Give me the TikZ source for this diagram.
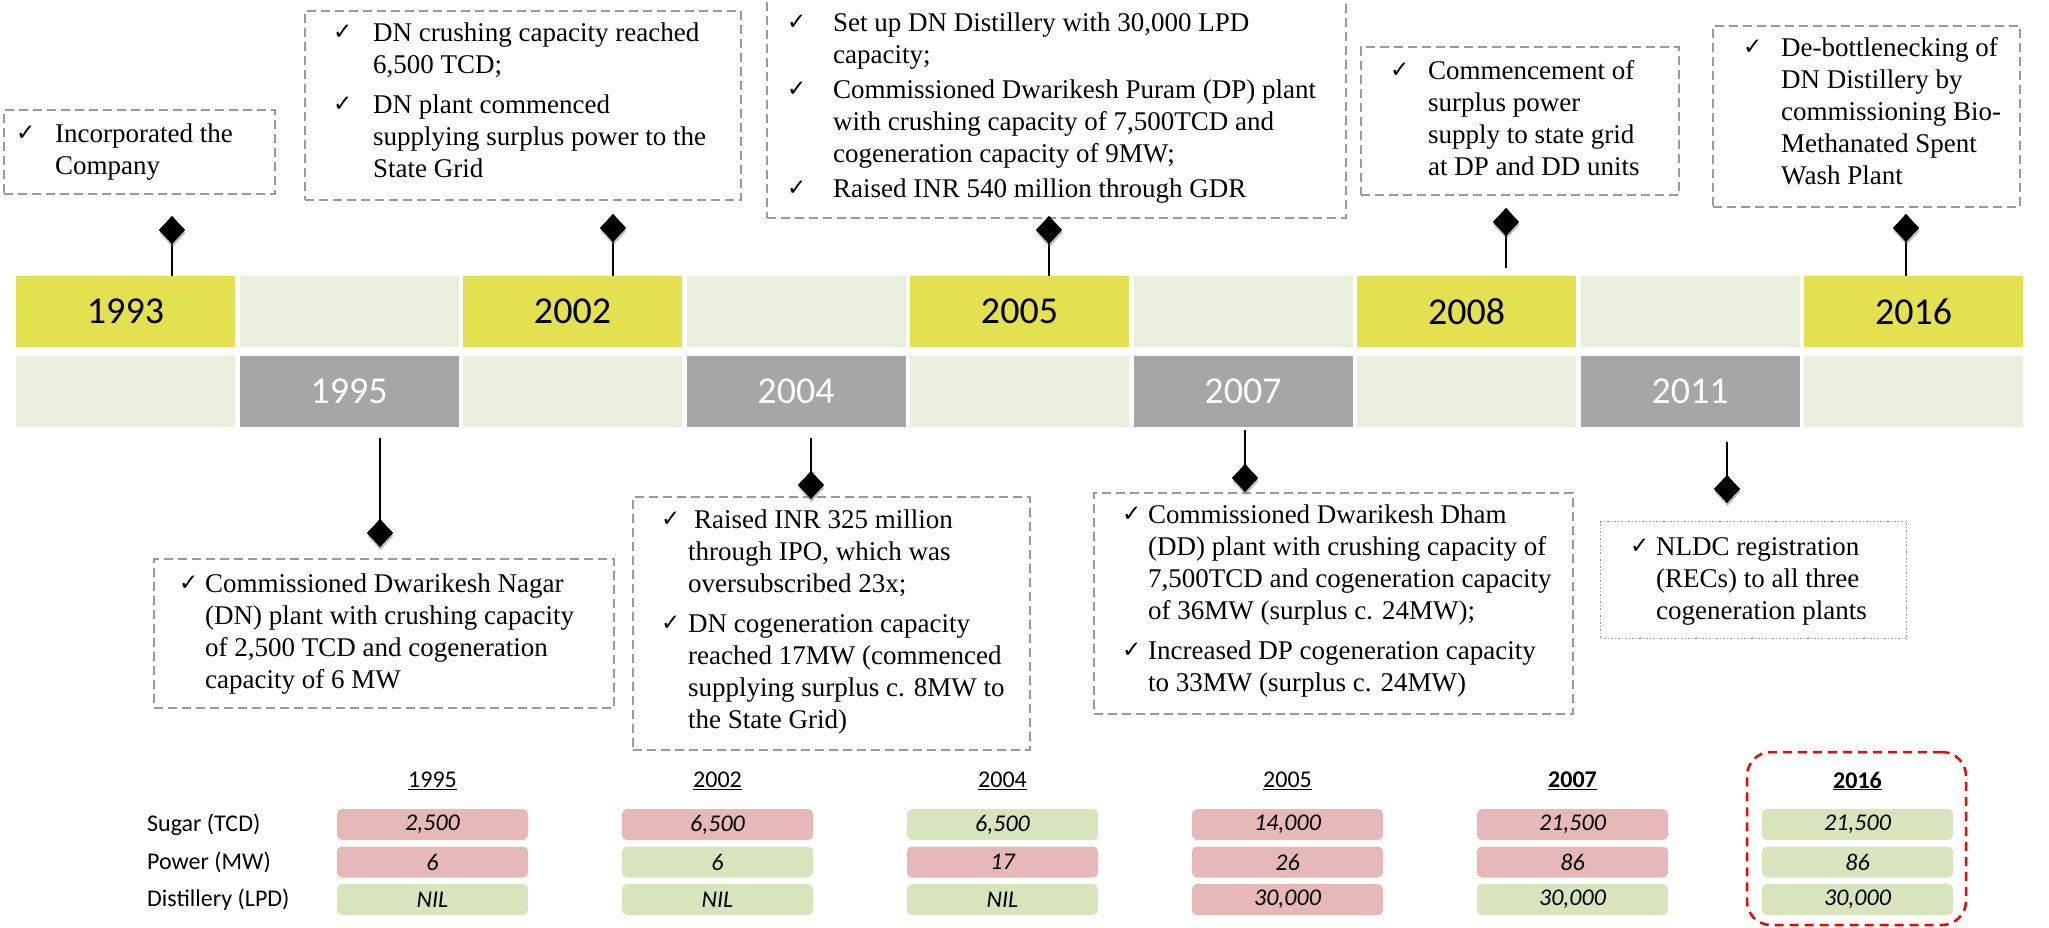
\documentclass[tikz,border=0pt]{standalone}
\usepackage{fontspec}
\setmainfont{Liberation Serif}
\newfontfamily\calfont{Carlito}
\newfontfamily\dejavu{DejaVu Sans}
\usetikzlibrary{shapes.geometric,shadows}
\definecolor{ylw}{RGB}{228,225,80}
\definecolor{lgt}{RGB}{234,239,221}
\definecolor{gry}{RGB}{166,166,166}
\definecolor{pnk}{RGB}{230,184,183}
\definecolor{grn}{RGB}{216,228,188}
\definecolor{dsh}{RGB}{155,155,155}
\newcommand{\ckm}[1]{\makebox[#1pt][l]{\raisebox{2pt}{\dejavu\fontsize{23}{23}\selectfont ✓}}}
\begin{document}
\begin{tikzpicture}[x=1pt,y=-1pt,
  cell/.style={minimum width=219pt, minimum height=71pt, inner sep=0pt, font=\calfont\fontsize{38}{40}\selectfont},
  evbox/.style={draw=dsh, line width=1.8pt, dash pattern=on 9pt off 5pt, anchor=north west, inner sep=0pt},
  dotbox/.style={draw=dsh, line width=1.3pt, dash pattern=on 1.5pt off 2pt, anchor=north west, inner sep=0pt},
  txt/.style={inner sep=0pt, anchor=base west, font=\fontsize{27}{32}\selectfont},
  dmd/.style={shape=diamond, fill=black, inner sep=0pt, minimum width=26pt, minimum height=28pt,
    drop shadow={shadow xshift=0.5pt, shadow yshift=-3pt, opacity=0.3}},
  stem/.style={line width=2.5pt, black},
  lbl/.style={anchor=west, inner sep=0pt, font=\calfont\fontsize{24}{26}\selectfont},
  hdr/.style={inner sep=0pt, font=\calfont\fontsize{24}{26}\selectfont},
  val/.style={rounded corners=5pt, minimum width=191pt, minimum height=31pt, inner sep=0pt, font=\calfont\itshape\fontsize{24}{26}\selectfont}
]
\useasboundingbox (0,0) rectangle (2049,928);

% timeline rows
\foreach \i/\ty/\by in {0/1993/,1//1995,2/2002/,3//2004,4/2005/,5//2007,6/2008/,7//2011,8/2016/}{
  \ifodd\i
    \node[cell, fill=lgt] (top\i) at ({125.5+223.5*\i},311.5) {};
    \node[cell, fill=gry, text=white] (bot\i) at ({125.5+223.5*\i},391.5) {\by};
  \else
    \node[cell, fill=ylw] (top\i) at ({125.5+223.5*\i},311.5) {\ty};
    \node[cell, fill=lgt] (bot\i) at ({125.5+223.5*\i},391.5) {};
  \fi
}

% top event boxes
\node[evbox, minimum width=271pt, minimum height=84pt] (b1993) at (3,109) {};
\node[txt] (t1993) at (16,143) {\begin{tabular}[t]{@{}l@{}l@{}}\ckm{39} & Incorporated the\\ & Company\end{tabular}};

\node[evbox, minimum width=436pt, minimum height=189pt] (b2002) at (304,10) {};
\node[txt] (t2002) at (333,42) {\begin{tabular}[t]{@{}l@{}l@{}}\ckm{40} & DN crushing capacity reached\\ & 6,500 TCD;\\[8pt]
\ckm{40} & DN plant commenced\\ & supplying surplus power to the\\ & State Grid\end{tabular}};

\node[evbox, minimum width=579pt, minimum height=222pt] (b2005) at (766,-5) {};
\node[txt] (t2005) at (787,32) {\begin{tabular}[t]{@{}l@{}l@{}}\ckm{46} & Set up DN Distillery with 30,000 LPD\\ & capacity;\\[3pt]
\ckm{46} & Commissioned Dwarikesh Puram (DP) plant\\ & with crushing capacity of 7,500TCD and\\ & cogeneration capacity of 9MW;\\[3pt]
\ckm{46} & Raised INR 540 million through GDR\end{tabular}};

\node[evbox, minimum width=318pt, minimum height=148pt] (b2008) at (1360,46) {};
\node[txt] (t2008) at (1390,80) {\begin{tabular}[t]{@{}l@{}l@{}}\ckm{38} & Commencement of\\ & surplus power\\ & supply to state grid\\ & at DP and DD units\end{tabular}};

\node[evbox, minimum width=307pt, minimum height=181pt] (b2016) at (1712,25) {};
\node[txt] (t2016) at (1743,57) {\begin{tabular}[t]{@{}l@{}l@{}}\ckm{38} & De-bottlenecking of\\ & DN Distillery by\\ & commissioning Bio-\\ & Methanated Spent\\ & Wash Plant\end{tabular}};

% bottom event boxes
\node[evbox, minimum width=460pt, minimum height=149pt] (b1995) at (153,558) {};
\node[txt] (t1995) at (179,592) {\begin{tabular}[t]{@{}l@{}l@{}}\ckm{26} & Commissioned Dwarikesh Nagar\\ & (DN) plant with crushing capacity\\ & of 2,500 TCD and cogeneration\\ & capacity of 6 MW\end{tabular}};

\node[evbox, minimum width=397pt, minimum height=253pt] (b2004) at (632,496) {};
\node[txt] (t2004) at (661,528) {\begin{tabular}[t]{@{}l@{}l@{}}\ckm{27} & \hspace{6pt}Raised INR 325 million\\ & through IPO, which was\\ & oversubscribed 23x;\\[8pt]
\ckm{27} & DN cogeneration capacity\\ & reached 17MW (commenced\\ & supplying surplus c. 8MW to\\ & the State Grid)\end{tabular}};

\node[evbox, minimum width=479pt, minimum height=221pt] (b2007) at (1093,492) {};
\node[txt] (t2007) at (1122,523) {\begin{tabular}[t]{@{}l@{}l@{}}\ckm{26} & Commissioned Dwarikesh Dham\\ & (DD) plant with crushing capacity of\\ & 7,500TCD and cogeneration capacity\\ & of 36MW (surplus c. 24MW);\\[8pt]
\ckm{26} & Increased DP cogeneration capacity\\ & to 33MW (surplus c. 24MW)\end{tabular}};

\node[dotbox, minimum width=306pt, minimum height=117pt] (b2011) at (1600,521) {};
\node[txt] (t2011) at (1630,555) {\begin{tabular}[t]{@{}l@{}l@{}}\ckm{26} & NLDC registration\\ & (RECs) to all three\\ & cogeneration plants\end{tabular}};

% diamonds and stems (top)
\node[dmd] (d1993) at (172,230) {};
\node[dmd] (d2002) at (613,228) {};
\node[dmd] (d2005) at (1049,230) {};
\node[dmd] (d2008) at (1506,222) {};
\node[dmd] (d2016) at (1906,228) {};
\coordinate (s1993) at (172,276);
\coordinate (s2002) at (613,276);
\coordinate (s2005) at (1049,276);
\coordinate (s2008) at (1506,268);
\coordinate (s2016) at (1906,276);
\foreach \n in {1993,2002,2005,2008,2016}{\draw[stem] (d\n.center) -- (s\n);}
\foreach \n in {1993,2002,2005,2008,2016}{\node[dmd] at (d\n) {};}

% diamonds and stems (bottom)
\node[dmd] (d1995) at (380,533) {};
\node[dmd] (d2004) at (811,485) {};
\node[dmd] (d2007) at (1245,478) {};
\node[dmd] (d2011) at (1727,489) {};
\coordinate (s1995) at (380,438);
\coordinate (s2004) at (811,438);
\coordinate (s2007) at (1245,430);
\coordinate (s2011) at (1727,442);
\foreach \n in {1995,2004,2007,2011}{\draw[stem] (s\n) -- (d\n.center);}
\foreach \n in {1995,2004,2007,2011}{\node[dmd] at (d\n) {};}

% table
\node[lbl] (lsug) at (147,825) {Sugar (TCD)};
\node[lbl] (lpow) at (147,862.5) {Power (MW)};
\node[lbl] (ldis) at (147,900) {Distillery (LPD)};

\node[hdr] (h1995) at (432.5,781) {\underline{1995}};
\node[val, fill=pnk] (s95) at (432.5,824.5) {2,500};
\node[val, fill=pnk] (p95) at (432.5,862) {6};
\node[val, fill=grn] (x95) at (432.5,899.5) {NIL};

\node[hdr] (h2002) at (717.5,781) {\underline{2002}};
\node[val, fill=pnk] (s02) at (717.5,824.5) {6,500};
\node[val, fill=grn] (p02) at (717.5,862) {6};
\node[val, fill=grn] (x02) at (717.5,899.5) {NIL};

\node[hdr] (h2004) at (1002.5,781) {\underline{2004}};
\node[val, fill=grn] (s04) at (1002.5,824.5) {6,500};
\node[val, fill=pnk] (p04) at (1002.5,862) {17};
\node[val, fill=grn] (x04) at (1002.5,899.5) {NIL};

\node[hdr] (h2005) at (1287.5,781) {\underline{2005}};
\node[val, fill=pnk] (s05) at (1287.5,824.5) {14,000};
\node[val, fill=pnk] (p05) at (1287.5,862) {26};
\node[val, fill=pnk] (x05) at (1287.5,899.5) {30,000};

\node[hdr] (h2007) at (1572.5,781) {\underline{\textbf{2007}}};
\node[val, fill=pnk] (s07) at (1572.5,824.5) {21,500};
\node[val, fill=pnk] (p07) at (1572.5,862) {86};
\node[val, fill=grn] (x07) at (1572.5,899.5) {30,000};

\node[hdr] (h2016) at (1857.5,781) {\underline{\textbf{2016}}};
\node[val, fill=grn] (s16) at (1857.5,824.5) {21,500};
\node[val, fill=grn] (p16) at (1857.5,862) {86};
\node[val, fill=grn] (x16) at (1857.5,899.5) {30,000};

\node[draw=red, line width=2.5pt, dash pattern=on 9pt off 6pt, rounded corners=24pt, minimum width=219pt, minimum height=173pt, inner sep=0pt] (hl) at (1856.5,838.5) {};
\end{tikzpicture}
\end{document}
